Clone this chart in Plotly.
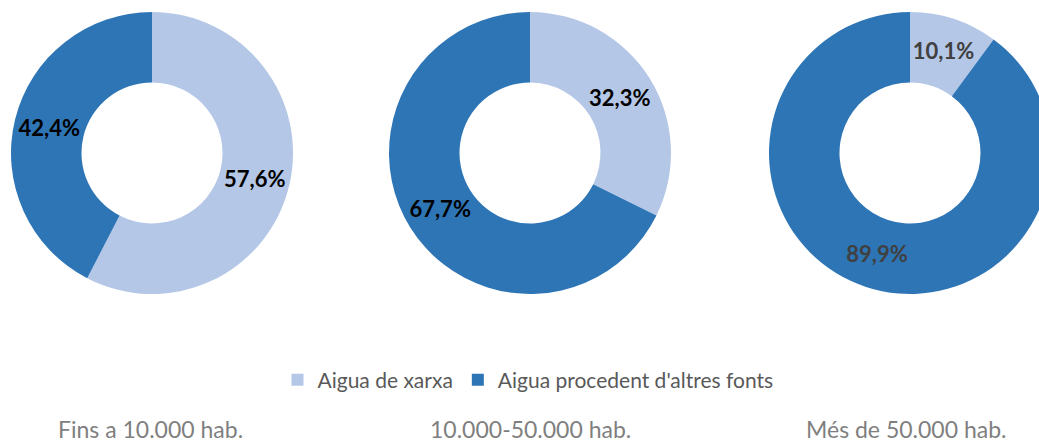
import plotly.graph_objects as go

# Data
categories = ["Aigua de xarxa", "Aigua procedent d'altres fonts"]
groups = ["Fins a 10.000 hab.", "10.000-50.000 hab.", "Més de 50.000 hab."]
share_small = [57.6, 42.4]
share_mid = [32.3, 67.7]
share_large = [10.1, 89.9]
series = [share_small, share_mid, share_large]

colors = ["#B4C7E7", "#2E75B6"]
label_colors = ["#000000", "#000000", "#404040"]

W, H = 1056, 444
FONT = "Lato"

# pixel boxes (left, right) for each donut, and common top/bottom
x_boxes = [(11, 293), (389, 671), (769, 1051)]
top, bottom = 12, 294

fig = go.Figure()
for i, (vals, (x0, x1)) in enumerate(zip(series, x_boxes)):
    fig.add_trace(go.Pie(
        labels=categories,
        values=vals,
        hole=0.5,
        sort=False,
        direction="clockwise",
        rotation=0,
        marker=dict(colors=colors, line=dict(width=0)),
        texttemplate=[f"{v:.1f}%".replace(".", ",") for v in vals],
        textinfo="text",
        textposition="inside",
        insidetextorientation="horizontal",
        textfont=dict(family=FONT, size=22, color=label_colors[i], weight="bold"),
        domain=dict(x=[x0 / W, x1 / W], y=[(H - bottom) / H, (H - top) / H]),
        showlegend=(i == 0),
        hoverinfo="label+percent",
    ))

centers = [150, 530, 906]
for name, cx in zip(groups, centers):
    fig.add_annotation(
        text=name, x=cx / W, y=(H - 429) / H, xref="paper", yref="paper",
        xanchor="center", yanchor="middle", showarrow=False,
        font=dict(family=FONT, size=23, color="#7F7F7F"),
    )

fig.update_layout(
    width=W, height=H,
    margin=dict(l=0, r=0, t=0, b=0),
    paper_bgcolor="white", plot_bgcolor="white",
    legend=dict(
        orientation="h", x=528 / W, y=(H - 380) / H,
        xanchor="center", yanchor="middle",
        font=dict(family=FONT, size=21, color="#595959"),
        itemwidth=30,
    ),
)

fig.write_html("out.html")
